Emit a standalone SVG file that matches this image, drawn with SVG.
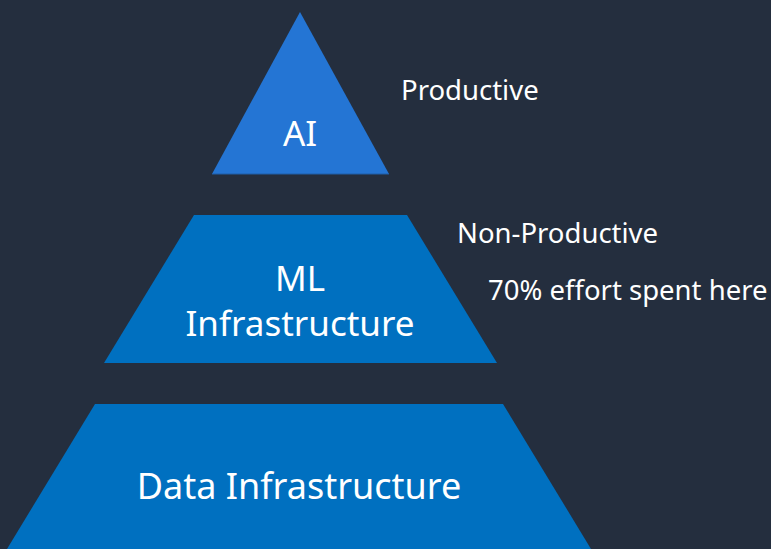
<svg xmlns="http://www.w3.org/2000/svg" width="771" height="549" viewBox="0 0 771 549">
<style>
.lbl{font-family:"Noto Sans","Open Sans","DejaVu Sans",sans-serif;fill:#ffffff;}
.c{text-anchor:middle;}
.side{font-size:27.5px;}
</style>
<rect x="0" y="0" width="771" height="549" fill="#242E3E"/>
<g id="ai">
<polygon points="300,12 389,174 212,174" fill="#2475D4"/>
<line x1="212" y1="174" x2="389" y2="174" stroke="#1F5FA8" stroke-width="1"/>
<text class="lbl c" x="300" y="146" font-size="35">AI</text>
</g>
<g id="ml">
<polygon points="194,215 407,215 497,363 104,363" fill="#0070C0"/>
<text class="lbl c" x="300" y="291" font-size="35">ML</text>
<text class="lbl c" x="300" y="336" font-size="35">Infrastructure</text>
</g>
<g id="data">
<polygon points="95,404 503,404 591,549 7,549" fill="#0070C0"/>
<text class="lbl c" x="299" y="499" font-size="36">Data Infrastructure</text>
</g>
<g id="labels">
<text class="lbl side" x="401" y="100">Productive</text>
<text class="lbl side" x="457" y="243">Non-Productive</text>
<text class="lbl side" x="488" y="300">70% effort spent here</text>
</g>
<g id="connectors"></g>
</svg>
